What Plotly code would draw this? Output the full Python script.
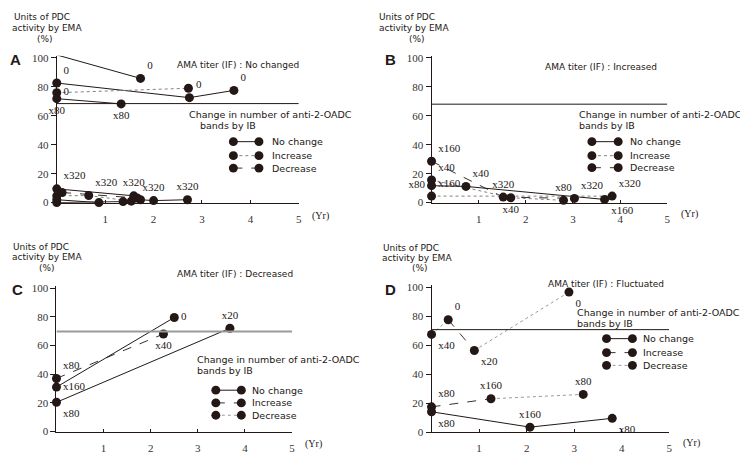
import plotly.graph_objects as go

W, H = 740, 464

# ---------------- data ----------------
# Panel A : AMA titer (IF) : No changed
A_x = [[0, 1.73], [0, 2.74, 3.66], [0, 2.72], [0, 1.33], [0, 1.59], [0.11, 1.66],
       [0, 0.66, 1.54], [0, 0.87], [0, 1.37], [1.73, 2.0, 2.7]]
A_y = [[102, 85.8], [82.6, 72.5, 77.5], [75.9, 79], [71.8, 68.2], [9.5, 4.7], [7, 3.2],
       [4.7, 4.9, 1], [2, 0], [0, 0.7], [2, 1.4, 2]]
A_text = [["0", "0"], ["0", "0", "0"], ["0", ""], ["x80", "x80"], ["x320", "x320"], ["", ""],
          ["", "x320", ""], ["", ""], ["", ""], ["", "x320", "x320"]]
A_change = [["No change"], ["No change", "No change"], ["Increase"], ["No change"], ["No change"],
            ["Decrease"], ["Increase", "Increase"], ["No change"], ["No change"], ["No change", "No change"]]
A_threshold = 68.4

# Panel B : AMA titer (IF) : Increased
B_x = [[0, 1.52, 3.03], [0, 1.68, 2.8], [0, 0.73, 3.67], [0, 3.83]]
B_y = [[28.6, 3.8, 2.9], [15.7, 3.4, 1.6], [11.7, 11.2, 2.2], [4.5, 4.5]]
B_text = [["x160", "x320", "x320"], ["x40", "x40", "x80"], ["x80", "x40", "x160"], ["x160", "x320"]]
B_change = [["Decrease", "Decrease"], ["Increase", "Increase"], ["No change", "No change"], ["Increase"]]
B_threshold = 68.0

# Panel C : AMA titer (IF) : Decreased
C_x = [[0, 2.27], [0, 2.5], [0, 3.68]]
C_y = [[37, 68], [31, 79.5], [20.4, 72]]
C_text = [["x80", "x40"], ["x160", "0"], ["x80", "x20"]]
C_change = [["Increase"], ["No change"], ["No change"]]
C_threshold = 69.7

# Panel D : AMA titer (IF) : Fluctuated
D_x = [[0, 0.35, 0.9, 2.89], [0, 1.25, 3.19], [0, 2.07, 3.8]]
D_y = [[67.4, 77.5, 56.3, 96.6], [17.4, 23, 26], [14, 3.4, 9.5]]
D_text = [["x40", "0", "x20", "0"], ["x80", "x160", "x80"], ["x80", "x160", "x80"]]
D_change = [["Decrease", "Increase", "Decrease"], ["Increase", "Decrease"], ["No change", "No change"]]
D_threshold = 70.7

panel_titles = ["AMA titer (IF) : No changed", "AMA titer (IF) : Increased",
                "AMA titer (IF) : Decreased", "AMA titer (IF) : Fluctuated"]
panel_letters = ["A", "B", "C", "D"]
legend_items = ["No change", "Increase", "Decrease"]
x_ticks = [1, 2, 3, 4, 5]
y_ticks = [0, 20, 40, 60, 80, 100]

# ---------------- styling ----------------
INK = "#231815"
SANS = "DejaVu Sans"
SERIF = "Liberation Serif"

style_AB = {"No change": ("#231815", "solid"), "Increase": ("#808080", "dot"), "Decrease": ("#333333", "dash")}
style_CD = {"No change": ("#231815", "solid"), "Increase": ("#333333", "dash"), "Decrease": ("#9a9a9a", "dot")}

# label positions per point (style only)
A_pos = [["top right", "top right"], ["top right", "top right", "top right"], ["middle right", "top right"],
         ["bottom center", "bottom center"], ["top right", "top center"], ["top right", "top right"],
         ["top right", "top right", "top right"], ["top right", "top right"], ["top right", "top right"],
         ["top right", "top center", "top center"]]
B_pos = [["top right", "top center", "top right"], ["top right", "bottom center", "top center"],
         ["middle left", "top right", "bottom right"], ["top right", "top right"]]
C_pos = [["top right", "bottom center"], ["middle right", "middle right"], ["bottom right", "top center"]]
D_pos = [["bottom right", "top right", "bottom right", "bottom right"], ["top right", "top center", "top center"],
         ["bottom right", "top center", "bottom right"]]

# pixel layout of each panel: (x0, x1, ybottom, ytop)
panels_px = [(57, 300, 203, 52.8), (433.3, 670, 203, 52.8), (56.7, 293.3, 437, 288.1), (433.3, 672, 437.5, 287.2)]

panels = [
    (A_x, A_y, A_text, A_change, A_pos, A_threshold, style_AB, "#231815", 1),
    (B_x, B_y, B_text, B_change, B_pos, B_threshold, style_AB, "#231815", 1),
    (C_x, C_y, C_text, C_change, C_pos, C_threshold, style_CD, "#9a9a9a", 2),
    (D_x, D_y, D_text, D_change, D_pos, D_threshold, style_CD, "#231815", 1),
]

fig = go.Figure()
shapes = []
annotations = []


def px(x):
    return x / W


def py(y):
    return 1 - y / H


def ann(text, x, y, size=9, family=SANS, xanchor="left", bold=False):
    annotations.append(dict(text=("<b>%s</b>" % text) if bold else text, x=px(x), y=py(y),
                            xref="paper", yref="paper", xanchor=xanchor, yanchor="middle",
                            showarrow=False, borderpad=0,
                            font=dict(family=family, size=size, color=INK)))


for i, (xs, ys, texts, changes, poss, thr, sty, thr_col, thr_w) in enumerate(panels):
    n = i + 1
    xa = "x" if n == 1 else "x%d" % n
    ya = "y" if n == 1 else "y%d" % n
    # line segments
    for sx, sy, sc in zip(xs, ys, changes):
        for k in range(len(sx) - 1):
            col, dash = sty[sc[k]]
            fig.add_trace(go.Scatter(x=sx[k:k + 2], y=sy[k:k + 2], mode="lines", xaxis=xa, yaxis=ya,
                                     line=dict(color=col, width=1, dash=dash), showlegend=False,
                                     hoverinfo="skip", cliponaxis=False))
    # markers with labels
    for sx, sy, st, sp in zip(xs, ys, texts, poss):
        fig.add_trace(go.Scatter(x=sx, y=sy, mode="markers+text", xaxis=xa, yaxis=ya, text=st,
                                 textposition=sp, marker=dict(size=9, color=INK),
                                 textfont=dict(family=SERIF, size=11, color=INK),
                                 showlegend=False, cliponaxis=False))
    # threshold line
    shapes.append(dict(type="line", xref=xa, yref=ya, x0=0, x1=5, y0=thr, y1=thr,
                       line=dict(color=thr_col, width=thr_w)))

    x0, x1, yb, yt = panels_px[i]
    axis_common = dict(showline=True, linecolor=INK, linewidth=1, showgrid=False, zeroline=False,
                       tickfont=dict(family=SERIF, size=11, color="#333333"), tickcolor=INK)
    fig.update_layout(**{
        ("xaxis" if n == 1 else "xaxis%d" % n): dict(domain=[px(x0), px(x1)], range=[0, 5], tickvals=x_ticks,
                                                    ticks="inside", ticklen=3, anchor=ya,
                                                    ticklabelstandoff=6, **axis_common),
        ("yaxis" if n == 1 else "yaxis%d" % n): dict(domain=[py(yb), py(yt)], range=[0, 101.5], tickvals=y_ticks,
                                                    ticks="outside", ticklen=5, anchor=xa, **axis_common),
    })

# ---------------- texts ----------------
text_px = [
    dict(u1=(13, 13.5), u2=(11, 24.5), pct=(36, 35.5), title=(177, 62.5), c1=(189, 112.5), c2=(200, 124),
         letter=(16, 57), yr=(312, 217), leg=(234.3, 260, 271.7, [140.7, 155, 167.7])),
    dict(u1=(380, 13.5), u2=(380, 24.5), pct=(410, 35.5), title=(546, 64), c1=(580, 112.5), c2=(580, 124),
         letter=(392, 57), yr=(683, 215), leg=(594.3, 620.7, 631.7, [140.7, 155, 167.3])),
    dict(u1=(12, 248), u2=(11, 258.5), pct=(38, 270), title=(177, 276), c1=(197, 363), c2=(197, 375),
         letter=(18, 292), yr=(305, 450), leg=(216.7, 242.3, 252.3, [394.7, 407.7, 420.3])),
    dict(u1=(384, 249.5), u2=(383, 259.5), pct=(413, 270), title=(549, 286), c1=(578, 315.5), c2=(578, 327),
         letter=(392, 292), yr=(685, 448.7), leg=(609, 635, 645, [342, 356.3, 369.3])),
]

for i, t in enumerate(text_px):
    ann("Units of PDC", *t["u1"])
    ann("activity by EMA", *t["u2"])
    ann("(%)", *t["pct"])
    ann(panel_titles[i], *t["title"])
    ann("Change in number of anti-2-OADC", *t["c1"], size=9.5)
    ann("bands by IB", *t["c2"], size=9.5)
    ann(panel_letters[i], t["letter"][0], t["letter"][1], size=15, family="Liberation Sans",
        xanchor="center", bold=True)
    ann("(Yr)", *t["yr"], size=10, family=SERIF)
    lx0, lx1, ltx, rows = t["leg"]
    sty = panels[i][6]
    for name, ry in zip(legend_items, rows):
        col, dash = sty[name]
        shapes.append(dict(type="line", xref="paper", yref="paper", x0=px(lx0), x1=px(lx1),
                           y0=py(ry), y1=py(ry), line=dict(color=col, width=1, dash=dash)))
        for cx in (lx0, lx1):
            shapes.append(dict(type="circle", xref="paper", yref="paper", x0=px(cx - 4.5), x1=px(cx + 4.5),
                               y0=py(ry + 4.5), y1=py(ry - 4.5), fillcolor=INK, line=dict(width=0)))
        ann(name, ltx, ry, size=9.5)

fig.update_layout(width=W, height=H, margin=dict(l=0, r=0, t=0, b=0), paper_bgcolor="white",
                  plot_bgcolor="white", shapes=shapes, annotations=annotations, showlegend=False)

fig.write_html("out.html", config={"displayModeBar": False},
               post_script="document.body.style.margin='0';document.body.style.padding='0';"
                           "document.body.style.overflow='hidden';")
